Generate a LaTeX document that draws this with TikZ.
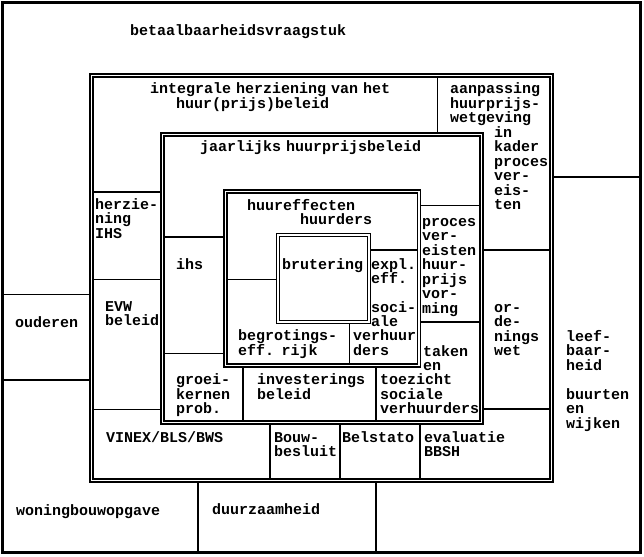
\documentclass[tikz,border=0pt]{standalone}
\usepackage{fontspec}
\setmainfont{Liberation Mono}
\newcommand\lblfont{\fontsize{15}{14.5}\selectfont\bfseries\lineskiplimit-20pt\relax}
\begin{document}
\begin{tikzpicture}[x=1pt,y=-1pt,
  frame/.style={draw, double, line width=1.3pt, double distance=1.7pt},
  ln/.style={draw, line width=1.6pt},
  lbl/.style={anchor=base west, inner sep=0pt, align=left, text width=320pt,
    font=\lblfont}]
\useasboundingbox (0,0) rectangle (644,556);
% outer frame
\draw[line width=2.5pt] (2.5,2.5) rectangle (640.5,552.5);
% nested double frames
\draw[frame] (91.5,75.5) rectangle (551.5,480.5);
\draw[frame] (162.5,134.5) rectangle (481.5,422.5);
\draw[frame] (225.5,191.5) rectangle (418.8,365.5);
\draw[frame] (278,234.7) rectangle (368.7,322);
% dividing lines
\draw[ln] (553,177) -- (640,177);
\draw[ln] (3,294.5) -- (90,294.5);
\draw[ln] (3,380) -- (90,380);
\draw[ln] (198,482) -- (198,552);
\draw[ln] (376,482) -- (376,552);
\draw[ln] (437.3,77) -- (437.3,133);
\draw[ln] (93,192) -- (161,192);
\draw[ln] (93,279.3) -- (161,279.3);
\draw[ln] (93,409.3) -- (161,409.3);
\draw[ln] (270,424) -- (270,479);
\draw[ln] (340,424) -- (340,479);
\draw[ln] (420,424) -- (420,479);
\draw[ln] (483,250) -- (550,250);
\draw[ln] (483,409) -- (550,409);
\draw[ln] (164,236.7) -- (224,236.7);
\draw[ln] (164,353.3) -- (224,353.3);
\draw[ln] (242.7,367) -- (242.7,421);
\draw[ln] (376,367) -- (376,421);
\draw[ln] (420,205.5) -- (480,205.5);
\draw[ln] (420,321.7) -- (480,321.7);
\draw[ln] (227,279.3) -- (277,279.3);
\draw[ln] (370,250) -- (417,250);
\draw[ln] (349.3,323) -- (349.3,364);
% labels
\node[lbl] (betaal) at (130,36) {betaalbaarheidsvraagstuk};
\node[lbl] (integ) at (150,94) {integrale herziening van het};
\node[lbl] (huurpb) at (176,108.5) {huur(prijs)beleid};
\node[lbl] (aanp) at (450,94) {aanpassing\\huurprijs-\\wetgeving};
\node[lbl] (inkader) at (494,137.5) {in\\kader\\proces\\ver-\\eis-\\ten};
\node[lbl] (jaarl) at (200,151) {jaarlijks huurprijsbeleid};
\node[lbl] (herz) at (95,209) {herzie-\\ning\\IHS};
\node[lbl] (ihs) at (176,269) {ihs};
\node[lbl] (evw) at (105,311) {EVW\\beleid};
\node[lbl] (oud) at (15,327) {ouderen};
\node[lbl] (heff) at (247,210) {huureffecten};
\node[lbl] (hders) at (300,224.5) {huurders};
\node[lbl] (brut) at (282,269) {brutering};
\node[lbl] (expl) at (371,269) {expl.\\eff.};
\node[lbl] (soci) at (371,312) {soci-\\ale};
\node[lbl] (verh) at (353,340.5) {verhuur\\ders};
\node[lbl] (begr) at (238,340.5) {begrotings-\\eff. rijk};
\node[lbl] (proc) at (422,226) {proces\\ver-\\eisten\\huur-\\prijs\\vor-\\ming};
\node[lbl] (taken) at (423,356) {taken\\en};
\node[lbl] (toez) at (380,384.5) {toezicht\\sociale\\verhuurders};
\node[lbl] (groei) at (176,384.5) {groei-\\kernen\\prob.};
\node[lbl] (inv) at (257,384.5) {investerings\\beleid};
\node[lbl] (orden) at (494,312) {or-\\de-\\nings\\wet};
\node[lbl] (leef) at (566,341) {leef-\\baar-\\heid};
\node[lbl] (buurt) at (566,399) {buurten\\en\\wijken};
\node[lbl] (vinex) at (106,442) {VINEX/BLS/BWS};
\node[lbl] (bouw) at (274,442) {Bouw-\\besluit};
\node[lbl] (bels) at (342,442) {Belstato};
\node[lbl] (eval) at (424,442) {evaluatie\\BBSH};
\node[lbl] (wonb) at (16,515) {woningbouwopgave};
\node[lbl] (duurz) at (212,514) {duurzaamheid};
\end{tikzpicture}
\end{document}
